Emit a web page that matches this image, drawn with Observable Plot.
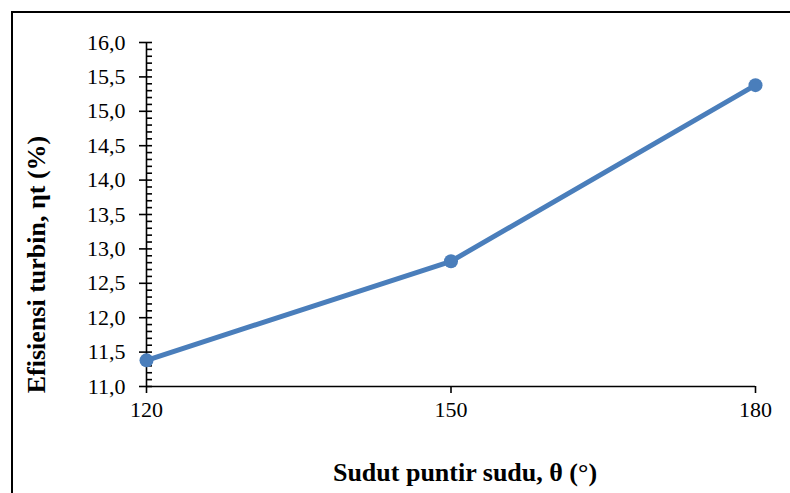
<!DOCTYPE html>
<html>
<head>
<meta charset="utf-8">
<script src="https://cdn.jsdelivr.net/npm/d3@7"></script>
<script src="https://cdn.jsdelivr.net/npm/@observablehq/plot@0.6"></script>
<style>
  html, body { margin: 0; padding: 0; background: #fff; overflow: hidden; }
  #wrap { position: relative; width: 790px; height: 493px; }
  #border { position: absolute; left: 11px; top: 11px; width: 900px; height: 600px;
            border-top: 2px solid #000; border-left: 2px solid #000; box-sizing: border-box; pointer-events: none; }
  #chart { position: absolute; left: 0; top: 0; }
</style>
</head>
<body>
<div id="wrap"><div id="chart"></div><div id="border"></div></div>
<script>
const angles = [120, 150, 180];
const efficiency = [11.38, 12.82, 15.38];
const yMajorTicks = [11.0, 11.5, 12.0, 12.5, 13.0, 13.5, 14.0, 14.5, 15.0, 15.5, 16.0];
const yMinorTicks = d3.range(110, 161, 1).map(v => v / 10).filter(v => Math.round(v * 10) % 5 !== 0);
const xTicks = [120, 150, 180];
const xTitle = "Sudut puntir sudu, θ (°)";
const yTitle = "Efisiensi turbin, ηt (%)";

const data = angles.map((a, i) => ({angle: a, eff: efficiency[i]}));
const fmt = v => d3.format(".1f")(v).replace(".", ",");
const color = "#4a7ebb";

const chart = Plot.plot({
  width: 790,
  height: 493,
  marginLeft: 146,
  marginRight: 35,
  marginTop: 42,
  marginBottom: 107,
  style: {fontFamily: "'Liberation Serif', 'Times New Roman', serif", fontSize: "22px", color: "#000", background: "#fff"},
  x: {type: "linear", domain: [120, 180], axis: null},
  y: {domain: [11, 16], axis: null},
  marks: [
    Plot.ruleX([120], {stroke: "#000", strokeWidth: 1.6}),
    Plot.ruleY([11], {stroke: "#000", strokeWidth: 1.6}),
    Plot.axisY({ticks: yMajorTicks, anchor: "left", tickSize: 13, dx: 6, tickFormat: () => "", label: null, stroke: "#000", strokeWidth: 1.6, strokeOpacity: 1}),
    Plot.axisY({ticks: yMinorTicks, anchor: "left", tickSize: 6, dx: 6, tickFormat: () => "", label: null, stroke: "#000", strokeWidth: 1.6, strokeOpacity: 1}),
    Plot.axisY({ticks: yMajorTicks, anchor: "left", tickSize: 0, tickPadding: 21, tickFormat: fmt, label: null, fill: "#000", fontSize: 22}),
    Plot.axisX({ticks: xTicks, anchor: "bottom", tickSize: 7, tickFormat: () => "", label: null, stroke: "#000", strokeWidth: 1.6, strokeOpacity: 1}),
    Plot.axisX({ticks: xTicks, anchor: "bottom", tickSize: 0, tickPadding: 15, tickFormat: d => String(d), label: null, fill: "#000", fontSize: 22}),
    Plot.line(data, {x: "angle", y: "eff", stroke: color, strokeWidth: 5, strokeLinejoin: "round"}),
    Plot.dot(data, {x: "angle", y: "eff", fill: color, r: 7, stroke: null}),
    Plot.text([xTitle], {frameAnchor: "bottom", textAnchor: "middle", lineAnchor: "middle", dy: 86, dx: 14, fontWeight: "bold", fontSize: 26, fill: "#000"}),
    Plot.text([yTitle], {frameAnchor: "left", textAnchor: "middle", lineAnchor: "middle", rotate: -90, dx: -110, dy: 50, fontWeight: "bold", fontSize: 26, fill: "#000"})
  ]
});
document.getElementById("chart").appendChild(chart);
</script>
</body>
</html>
